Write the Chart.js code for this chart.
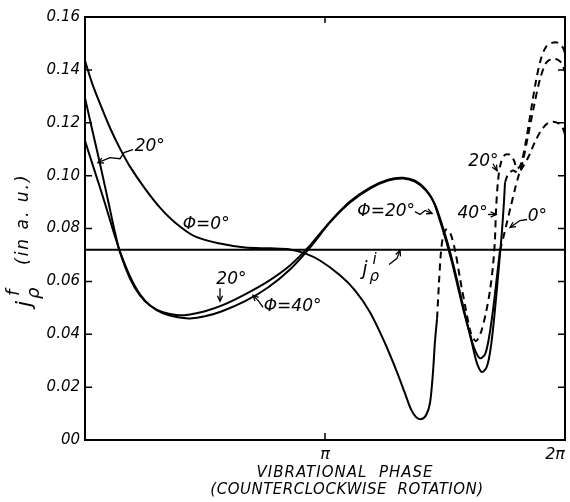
<!DOCTYPE html>
<html>
<head>
<meta charset="utf-8">
<script src="https://cdn.jsdelivr.net/npm/chart.js@4"></script>
<style>
  html, body { margin: 0; background: #fff; }
  canvas { display: block; }
</style>
</head>
<body>
<canvas id="chart" width="570" height="502"></canvas>
<script>
// Phase is in units of pi (0..2), signal j_p^f in a.u.

// --- Phi = 0 deg ---
const phase0 = [0, 0.029, 0.0625, 0.104, 0.146, 0.1875, 0.25, 0.3125, 0.375, 0.458, 0.5625, 0.667, 0.771, 0.854,
  0.917, 0.979, 1.0625, 1.125, 1.1875, 1.25, 1.3, 1.333, 1.358, 1.379, 1.4, 1.421, 1.4375, 1.45, 1.458, 1.467];
const j0 = [0.1434, 0.1351, 0.1272, 0.1181, 0.1102, 0.1034, 0.0951, 0.0879, 0.0823, 0.0770, 0.0743, 0.0728, 0.0725, 0.0721,
  0.0706, 0.0679, 0.0623, 0.0566, 0.0483, 0.0366, 0.0257, 0.0177, 0.0117, 0.0087, 0.0079, 0.0094, 0.0140, 0.0257, 0.0370, 0.0460];
const phase0d = [1.467, 1.475, 1.483, 1.492, 1.504, 1.521, 1.542, 1.5625, 1.5875, 1.608, 1.629, 1.65, 1.671, 1.6875, 1.7,
  1.708, 1.7125, 1.721, 1.733, 1.75, 1.771, 1.7875, 1.8, 1.817, 1.8375, 1.858, 1.879, 1.9, 1.921, 1.946, 1.971, 1.992, 2.0];
const j0d = [0.0460, 0.0596, 0.0709, 0.0770, 0.0796, 0.0785, 0.0717, 0.0611, 0.0491, 0.0404, 0.0374, 0.0408, 0.0483, 0.0566, 0.0660,
  0.0755, 0.0868, 0.0981, 0.1049, 0.1079, 0.1079, 0.1057, 0.1026, 0.1045, 0.1132, 0.1245, 0.1358, 0.1442, 0.1487, 0.1502, 0.1502, 0.1483, 0.1464];

// --- Phi = 20 deg ---
const phase20 = [0, 0.029, 0.0625, 0.096, 0.125, 0.146, 0.1875, 0.229, 0.271, 0.325, 0.3875, 0.4375, 0.5, 0.571, 0.667,
  0.7625, 0.854, 0.9375, 1.021, 1.104, 1.1875, 1.2625, 1.325, 1.375, 1.417, 1.45, 1.479, 1.504, 1.529, 1.554, 1.579,
  1.604, 1.625, 1.646, 1.667, 1.683, 1.7, 1.717, 1.729];
const j20 = [0.1294, 0.1177, 0.1045, 0.0906, 0.0785, 0.0709, 0.0611, 0.0547, 0.0509, 0.0483, 0.0472, 0.0475, 0.0487, 0.0509, 0.0551,
  0.0600, 0.0660, 0.0736, 0.0826, 0.0902, 0.0955, 0.0985, 0.0992, 0.0981, 0.0951, 0.0906, 0.0830, 0.0755, 0.0672, 0.0577, 0.0483,
  0.0400, 0.0340, 0.0309, 0.0325, 0.0385, 0.0491, 0.0623, 0.0717];
const phase20d = [1.729, 1.742, 1.758, 1.775, 1.792, 1.808, 1.825, 1.846, 1.871, 1.896, 1.921, 1.946, 1.971, 1.9875, 2.0];
const j20d = [0.0717, 0.0762, 0.0823, 0.0887, 0.0951, 0.1004, 0.1057, 0.1151, 0.1264, 0.1366, 0.1426, 0.1442, 0.1438, 0.1423, 0.1392];

// --- Phi = 40 deg ---
const phase40 = [0, 0.029, 0.0625, 0.096, 0.125, 0.15, 0.1875, 0.229, 0.271, 0.325, 0.3875, 0.4375, 0.5, 0.571, 0.667,
  0.7625, 0.854, 0.9375, 1.021, 1.104, 1.1875, 1.2625, 1.325, 1.375, 1.421, 1.458, 1.4875, 1.5125, 1.5375, 1.5625, 1.5875,
  1.6125, 1.633, 1.654, 1.675, 1.692, 1.708, 1.725, 1.7375, 1.746, 1.75];
const j40 = [0.1132, 0.1049, 0.0955, 0.0857, 0.0770, 0.0702, 0.0619, 0.0551, 0.0509, 0.0479, 0.0464, 0.0460, 0.0468, 0.0487, 0.0525,
  0.0577, 0.0645, 0.0728, 0.0823, 0.0898, 0.0951, 0.0981, 0.0989, 0.0977, 0.0943, 0.0891, 0.0815, 0.0740, 0.0653, 0.0558, 0.0460,
  0.0366, 0.0291, 0.0257, 0.0279, 0.0358, 0.0491, 0.0660, 0.0792, 0.0906, 0.0974];
const phase40d = [1.75, 1.7625, 1.783, 1.804, 1.825, 1.85, 1.875, 1.9, 1.925, 1.95, 1.975, 1.992, 2.0];
const j40d = [0.0974, 0.1004, 0.1019, 0.1011, 0.1034, 0.1075, 0.1128, 0.1170, 0.1196, 0.1204, 0.1196, 0.1177, 0.1155];

// initial value j_p^i (flat line)
const jInitial = 0.072;

const yTickValues = [0, 0.02, 0.04, 0.06, 0.08, 0.10, 0.12, 0.14, 0.16];
const yTickLabels = ['00', '0.02', '0.04', '0.06', '0.08', '0.10', '0.12', '0.14', '0.16'];
const xTickValues = [0, 1, 2];
const xTickLabels = ['', 'π', '2π'];

// curve labels: text, phase, value
const noteText = ['20°', 'Φ=0°', '20°', 'Φ=40°', 'Φ=20°', '40°', '0°', '20°'];
const notePhase = [0.27, 0.505, 0.61, 0.865, 1.255, 1.615, 1.885, 1.66];
const noteValue = [0.111, 0.0815, 0.0605, 0.0505, 0.0865, 0.0855, 0.0845, 0.1055];

// leader lines from labels to curves (last point gets the arrow)
const leaders = [
  [[0.2, 0.1098], [0.1625, 0.1087], [0.146, 0.1064], [0.104, 0.1068], [0.054, 0.1049]],
  [[0.5625, 0.0574], [0.5625, 0.0525]],
  [[0.742, 0.0502], [0.721, 0.0528], [0.7, 0.0547]],
  [[1.375, 0.0864], [1.396, 0.0853], [1.417, 0.0868], [1.446, 0.0857]],
  [[1.267, 0.0664], [1.3, 0.0687], [1.3125, 0.0717]],
  [[1.679, 0.0853], [1.7125, 0.0853]],
  [[1.842, 0.0834], [1.8125, 0.083], [1.771, 0.0804]],
  [[1.7, 0.1045], [1.717, 0.1019]]
];

const FONT = '"DejaVu Sans", sans-serif';
const pts = (xs, ys) => xs.map((x, i) => ({ x, y: ys[i] }));

const curve = (xs, ys, dashed) => ({
  data: pts(xs, ys),
  borderColor: '#000',
  borderWidth: 2,
  borderDash: dashed ? [7, 5] : [],
  tension: 0.3,
  pointRadius: 0
});

// j with sub/superscript, drawn at baseline (x, y); returns advance
function drawJ(ctx, x, y, sub, sup, size) {
  ctx.font = `italic ${size}px ${FONT}`;
  ctx.fillText('j', x, y);
  const w = ctx.measureText('j').width + 2;
  ctx.font = `italic ${Math.round(size * 0.8)}px ${FONT}`;
  ctx.fillText(sub, x + w, y + size * 0.35);
  ctx.fillText(sup, x + w + 3, y - size * 0.55);
  return w + ctx.measureText(sub).width;
}

// frame with inward ticks, like a plotter sheet
const frame = {
  id: 'frame',
  afterDatasetsDraw(chart) {
    const { ctx, chartArea: a, scales: { x, y } } = chart;
    ctx.save();
    ctx.strokeStyle = '#000';
    ctx.lineWidth = 2;
    ctx.strokeRect(a.left, a.top, a.right - a.left, a.bottom - a.top);
    ctx.lineWidth = 1.5;
    ctx.beginPath();
    y.ticks.forEach(t => {
      const py = y.getPixelForValue(t.value);
      ctx.moveTo(a.left, py); ctx.lineTo(a.left + 7, py);
      ctx.moveTo(a.right, py); ctx.lineTo(a.right - 7, py);
    });
    const px = x.getPixelForValue(1);
    ctx.moveTo(px, a.bottom); ctx.lineTo(px, a.bottom - 7);
    ctx.moveTo(px, a.top); ctx.lineTo(px, a.top + 6);
    ctx.stroke();
    ctx.restore();
  }
};

// curve labels, leaders and axis titles
const notes = {
  id: 'notes',
  afterDraw(chart) {
    const { ctx, scales: { x, y } } = chart;
    const P = (u, v) => [x.getPixelForValue(u), y.getPixelForValue(v)];
    ctx.save();
    ctx.fillStyle = '#000';
    ctx.strokeStyle = '#000';
    ctx.textAlign = 'center';
    ctx.textBaseline = 'middle';
    ctx.font = `italic 17px ${FONT}`;
    noteText.forEach((t, i) => {
      const [px, py] = P(notePhase[i], noteValue[i]);
      ctx.fillText(t, px, py);
    });

    ctx.lineWidth = 1.3;
    leaders.forEach(line => {
      const p = line.map(q => P(q[0], q[1]));
      ctx.beginPath();
      p.forEach(([px, py], k) => k ? ctx.lineTo(px, py) : ctx.moveTo(px, py));
      ctx.stroke();
      const [x1, y1] = p[p.length - 2];
      const [x2, y2] = p[p.length - 1];
      const ang = Math.atan2(y2 - y1, x2 - x1);
      ctx.beginPath();
      ctx.moveTo(x2 - 6 * Math.cos(ang - 0.45), y2 - 6 * Math.sin(ang - 0.45));
      ctx.lineTo(x2, y2);
      ctx.lineTo(x2 - 6 * Math.cos(ang + 0.45), y2 - 6 * Math.sin(ang + 0.45));
      ctx.stroke();
    });

    // j_p^i label next to the flat line
    ctx.textAlign = 'left';
    ctx.textBaseline = 'alphabetic';
    const [jx, jy] = P(1.155, 0.0625);
    drawJ(ctx, jx, jy, 'ρ', 'i', 19);

    // y axis title, rotated
    ctx.save();
    ctx.translate(31, 307);
    ctx.rotate(-Math.PI / 2);
    drawJ(ctx, 0, 0, 'ρ', 'f', 22);
    ctx.font = `italic 17px ${FONT}`;
    ctx.letterSpacing = '2px';
    ctx.fillText('(in a. u.)', 42, -3);
    ctx.restore();

    // x axis title
    ctx.textAlign = 'center';
    ctx.font = `italic 15px ${FONT}`;
    ctx.letterSpacing = '1px';
    ctx.fillText('VIBRATIONAL  PHASE', 345, 477);
    ctx.letterSpacing = '0.5px';
    ctx.fillText('(COUNTERCLOCKWISE  ROTATION)', 347, 494);
    ctx.restore();
  }
};

new Chart(document.getElementById('chart'), {
  type: 'line',
  data: {
    datasets: [
      curve([0, 2], [jInitial, jInitial], false),
      curve(phase0, j0, false),
      curve(phase0d, j0d, true),
      curve(phase20, j20, false),
      curve(phase20d, j20d, true),
      curve(phase40, j40, false),
      curve(phase40d, j40d, true)
    ]
  },
  options: {
    responsive: false,
    animation: false,
    devicePixelRatio: 1,
    layout: { padding: { top: 17, right: 5, left: 0, bottom: 0 } },
    plugins: { legend: { display: false }, tooltip: { enabled: false } },
    scales: {
      x: {
        type: 'linear', min: 0, max: 2,
        grid: { display: false, drawTicks: false },
        border: { display: false },
        afterBuildTicks: s => { s.ticks = xTickValues.map(v => ({ value: v })); },
        afterFit: s => { s.height = 62; s.paddingLeft = 0; s.paddingRight = 0; },
        ticks: {
          align: 'inner', autoSkip: false, maxRotation: 0, padding: 5, color: '#000',
          font: { family: FONT, style: 'italic', size: 16 },
          callback: (v, i) => xTickLabels[i]
        }
      },
      y: {
        min: 0, max: 0.16,
        grid: { display: false, drawTicks: false },
        border: { display: false },
        afterBuildTicks: s => { s.ticks = yTickValues.map(v => ({ value: v })); },
        afterFit: s => { s.width = 85; s.paddingTop = 0; s.paddingBottom = 0; },
        ticks: {
          padding: 5, color: '#000',
          font: { family: FONT, style: 'italic', size: 15 },
          callback: (v, i) => yTickLabels[i]
        }
      }
    }
  },
  plugins: [frame, notes]
});
</script>
</body>
</html>
